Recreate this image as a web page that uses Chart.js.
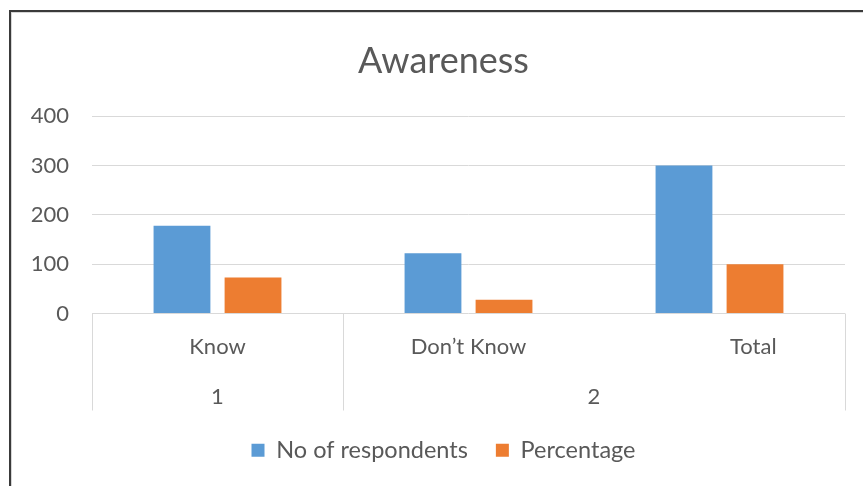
<!DOCTYPE html>
<html>
<head>
<meta charset="utf-8">
<script src="https://cdn.jsdelivr.net/npm/chart.js@4/dist/chart.umd.min.js"></script>
<style>
  html, body { margin: 0; padding: 0; background: #fff; }
  canvas { display: block; }
</style>
</head>
<body>
<canvas id="myChart" width="863" height="486"></canvas>
<script>
const categories = ['Know', 'Don\u2019t Know', '            Total'];
const respondents = [178, 122, 300];
const percentage = [73, 28, 100];
const groupLabels = ['1', '2'];
const groupSizes = [1, 2]; // how many categories sit under each group label
const yTicks = [0, 100, 200, 300, 400];

const textColor = '#595959';
const fontFamily = 'Lato, "Open Sans", sans-serif';

// draws the outer frame, the grouped category axis lines and the group labels
const groupAxis = {
    id: 'groupAxis',
    afterLayout(chart) {
        // title and legend are centred on the whole frame, not on the padded box
        chart.titleBlock.left = 42;
        chart.legend.left = 42;
    },
    beforeDraw(chart) {
        const c = chart.ctx;
        c.save();
        c.fillStyle = '#3a3a3a';
        c.fillRect(9, 10, chart.width - 9, 2);
        c.fillRect(9, 10, 2, chart.height - 10);
        c.fillStyle = '#d6d6d6';
        c.fillRect(11, 12, chart.width - 11, 1);
        c.fillRect(11, 12, 1, chart.height - 12);
        c.restore();
    },
    afterDraw(chart) {
        const c = chart.ctx;
        const x = chart.scales.x;
        const area = chart.chartArea;
        const half = (x.getPixelForValue(1) - x.getPixelForValue(0)) / 2;
        const lineBottom = area.bottom + 97;
        c.save();
        c.strokeStyle = '#d9d9d9';
        c.lineWidth = 1;
        let start = 0;
        const edges = [x.getPixelForValue(0) - half];
        groupSizes.forEach(n => {
            edges.push(x.getPixelForValue(start + n - 1) + half);
            start += n;
        });
        edges.forEach(px => {
            c.beginPath();
            c.moveTo(Math.round(px) + 0.5, area.bottom);
            c.lineTo(Math.round(px) + 0.5, lineBottom);
            c.stroke();
        });
        c.fillStyle = textColor;
        c.font = '22px ' + fontFamily;
        c.textAlign = 'center';
        c.textBaseline = 'middle';
        groupLabels.forEach((label, i) => {
            const mid = (edges[i] + edges[i + 1]) / 2;
            c.fillText(label, mid, area.bottom + 83);
        });
        c.restore();
    }
};

const ctx = document.getElementById('myChart').getContext('2d');
let chart = new Chart(ctx, {
    type: 'bar',
    data: {
        labels: categories,
        datasets: [{
            label: 'No of respondents',
            backgroundColor: '#5B9BD5',
            data: respondents
        }, {
            label: 'Percentage',
            backgroundColor: '#ED7D31',
            data: percentage
        }]
    },
    options: {
        responsive: false,
        animation: false,
        categoryPercentage: 0.566,
        barPercentage: 0.8,
        layout: { padding: { left: 20, right: 18, top: 10, bottom: 14 } },
        plugins: {
            title: {
                display: true,
                text: 'Awareness',
                color: textColor,
                font: { family: fontFamily, size: 36, weight: 'normal' },
                padding: { top: 30, bottom: 33 }
            },
            legend: {
                position: 'bottom',
                labels: {
                    color: textColor,
                    boxWidth: 13,
                    boxHeight: 13,
                    padding: 28,
                    font: { family: fontFamily, size: 23.5 }
                }
            },
            tooltip: { enabled: false }
        },
        scales: {
            x: {
                grid: { display: false, drawTicks: false },
                border: { display: false },
                ticks: {
                    color: textColor,
                    padding: 20,
                    font: { family: fontFamily, size: 22 }
                },
                afterFit(scale) { scale.height = 97; }
            },
            y: {
                min: 0,
                max: yTicks[yTicks.length - 1],
                afterBuildTicks(scale) { scale.ticks = yTicks.map(v => ({ value: v })); },
                grid: { color: '#d9d9d9', drawTicks: false },
                border: { display: false },
                ticks: {
                    color: textColor,
                    padding: 23,
                    font: { family: fontFamily, size: 22 }
                },
                afterFit(scale) { scale.width = 72; }
            }
        }
    },
    plugins: [groupAxis]
});
</script>
</body>
</html>
